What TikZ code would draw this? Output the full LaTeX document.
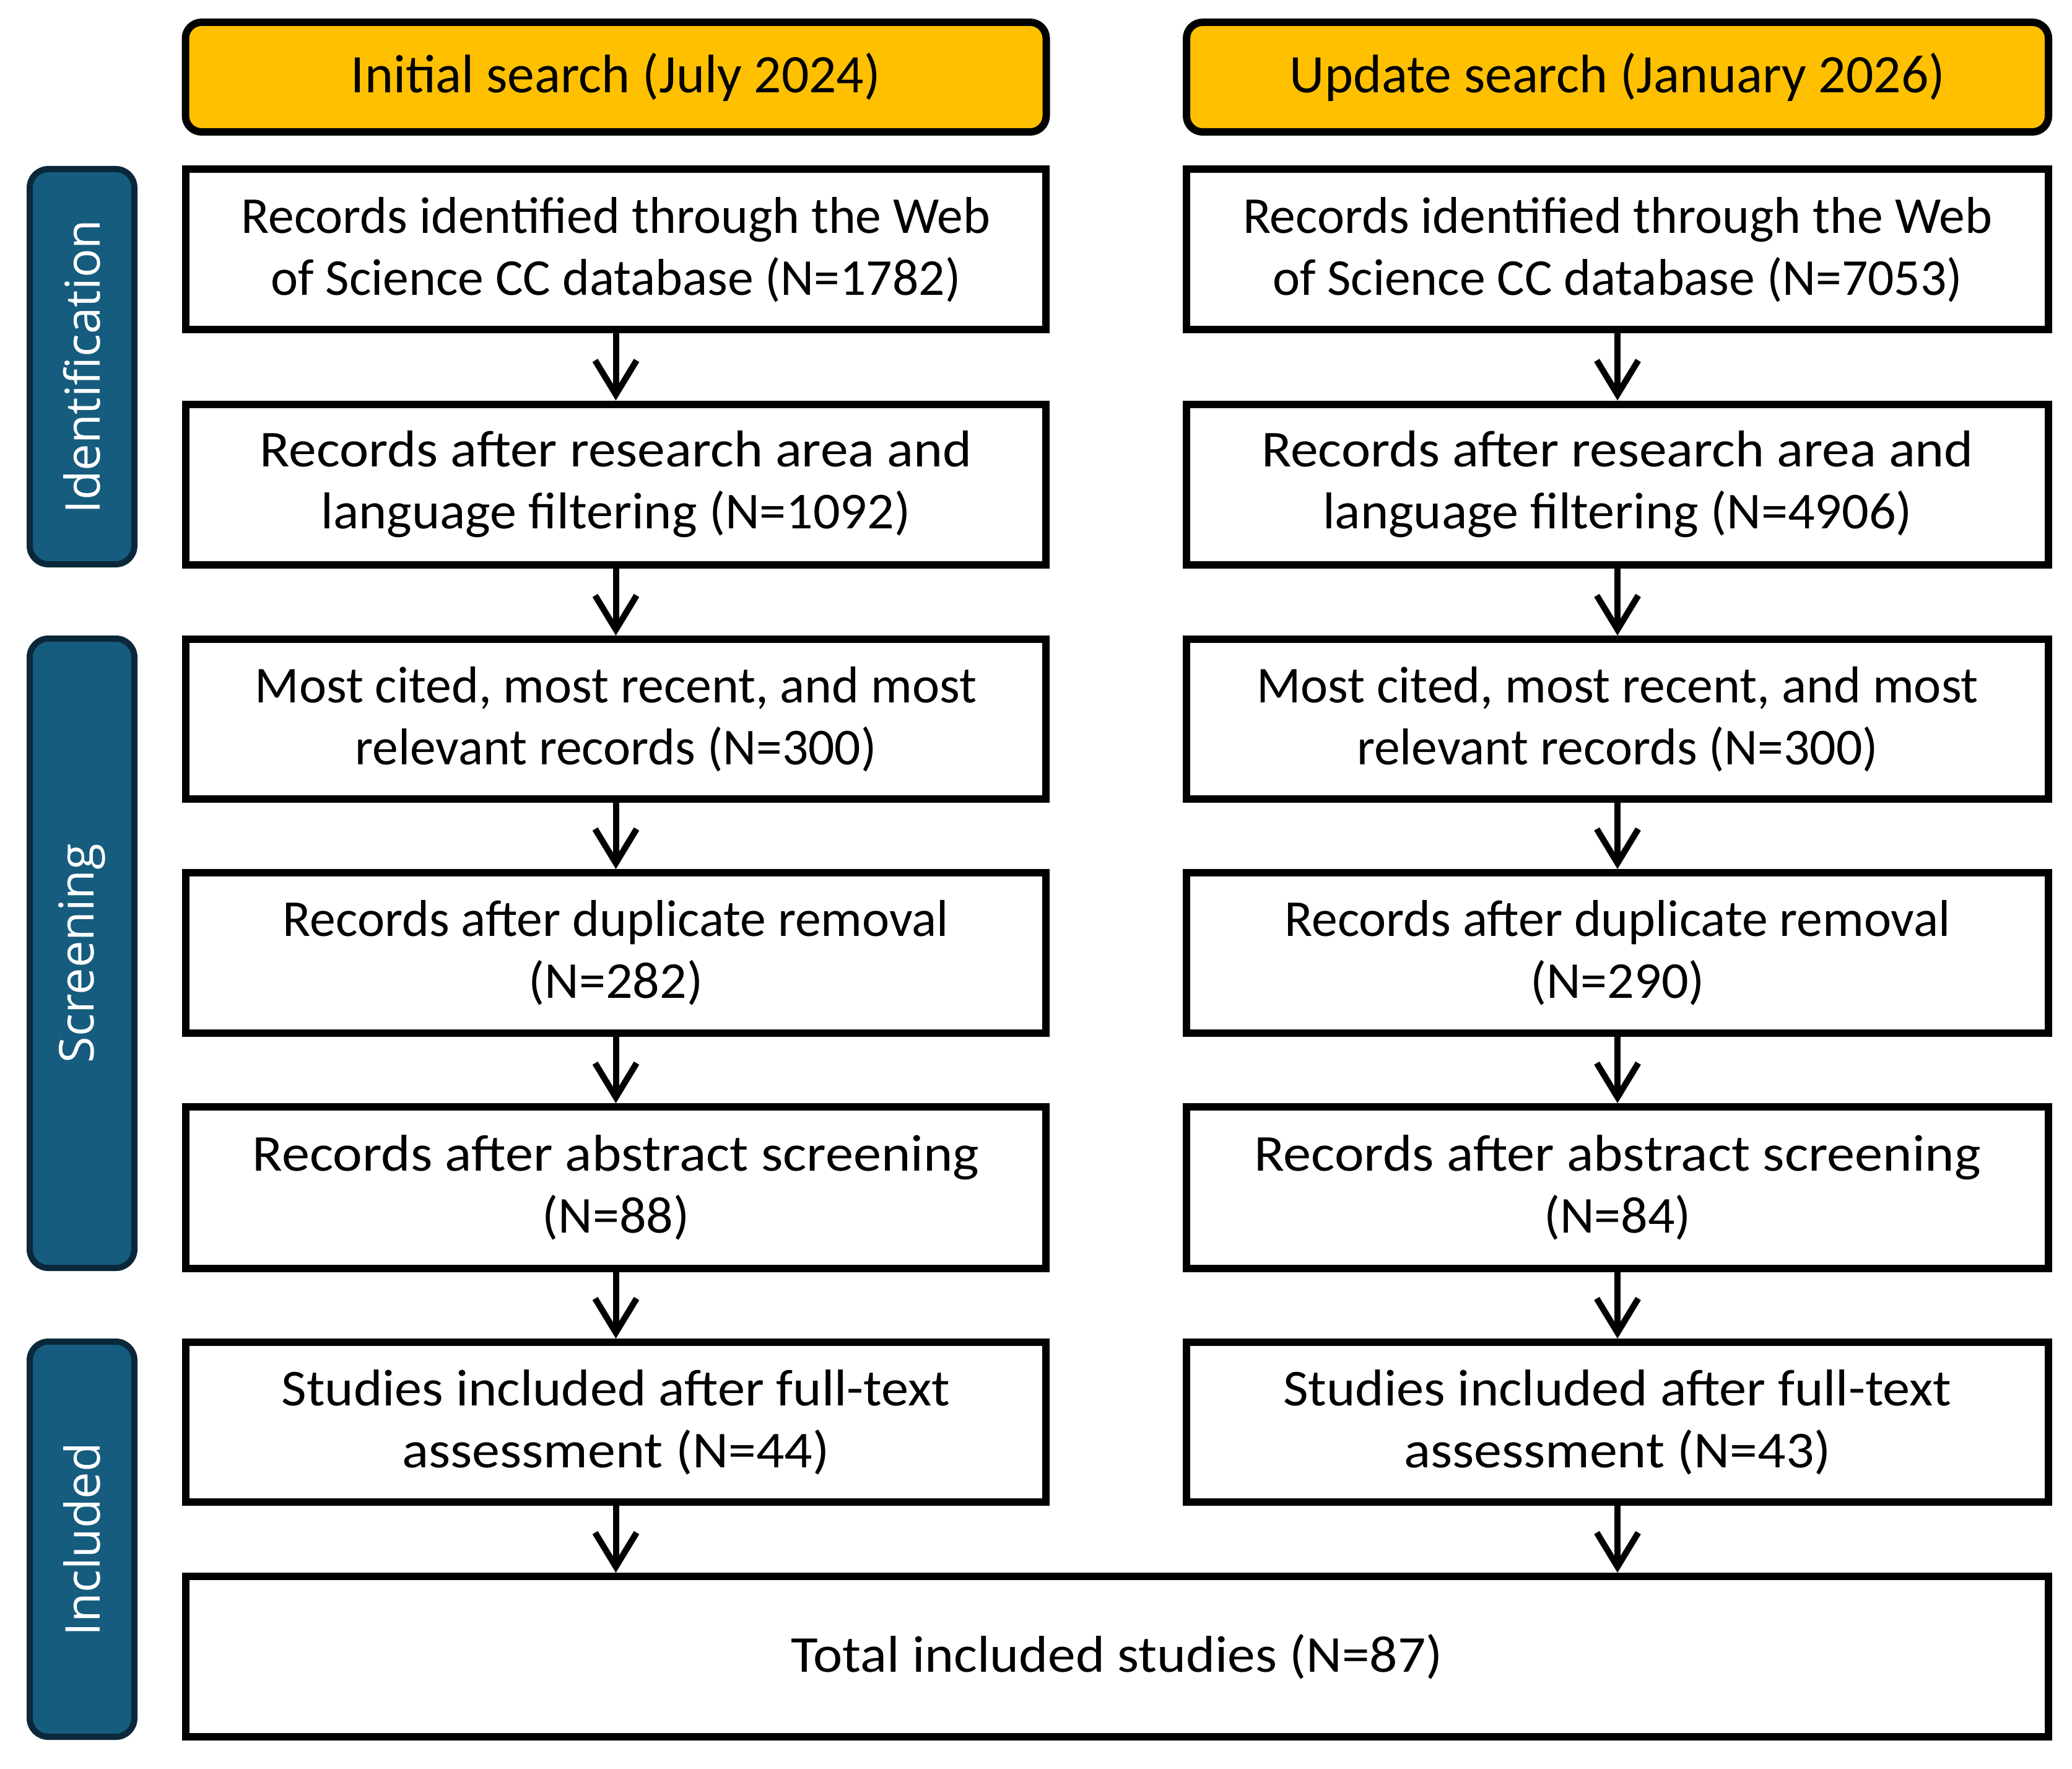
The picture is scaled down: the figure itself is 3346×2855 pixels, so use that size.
\documentclass[tikz,border=0pt]{standalone}
\usepackage{fontspec}
\usepackage{graphicx}
\setmainfont{Carlito}
\newfontfamily\sidefont{Open Sans}
\usetikzlibrary{arrows.meta}
\definecolor{hdryellow}{RGB}{255,192,0}
\definecolor{sidefill}{RGB}{22,92,126}
\definecolor{sideline}{RGB}{10,40,58}
\newcommand{\stretchline}[2]{\scalebox{#1}[1]{#2}}
\begin{document}
\begin{tikzpicture}[x=0.25pt,y=-0.25pt,
  stepbox/.style={draw=black, line width=3pt, fill=white, rectangle, align=center,
    inner sep=0pt, font=\fontsize{20.9pt}{25pt}\selectfont, text=black},
  colbox/.style={stepbox, minimum width=348pt, minimum height=64.75pt},
  hdrbox/.style={draw=black, line width=3pt, fill=hdryellow, rounded corners=6.5pt,
    minimum width=347.5pt, minimum height=44.25pt, inner sep=0pt,
    font=\fontsize{21.9pt}{26pt}\selectfont, text=black},
  sidebox/.style={draw=sideline, fill=sidefill, line width=2.5pt, rounded corners=7.5pt,
    minimum width=42.25pt, inner sep=0pt},
  sidetext/.style={text=white, rotate=90, inner sep=0pt,
    font=\sidefont\fontsize{19.4pt}{23pt}\selectfont},
  flowarrow/.style={draw=black, line width=2.5pt,
    -{Straight Barb[length=13.75pt, width=16.75pt, line width=2.5pt]}}
]
\useasboundingbox (0,0) rectangle (3346,2855);

% headers
\node[hdrbox] (h1) at (994.5,124.5) {Initial search (July 2024)};
\node[hdrbox, minimum width=348pt] (h2) at (2612,124.5) {Update search (January 2026)};

% side labels
\node[sidebox, minimum height=159.5pt] (s1) at (132.5,592) {};
\node[sidetext] (t1) at (s1.center) {Identification};
\node[sidebox, minimum height=254pt] (s2) at (132.5,1539) {};
\node[sidetext] (t2) at (s2.center) {Screening};
\node[sidebox, minimum height=159.5pt] (s3) at (132.5,2485) {};
\node[sidetext] (t3) at (s3.center) {Included};

% left column
\node[colbox, minimum width=347.25pt] (l1) at (994.5,403) {Records identified through the Web\\of Science CC database (N=1782)};
\node[colbox, minimum width=347.25pt] (l2) at (994.5,782) {\stretchline{1.07}{Records after research area and}\\\stretchline{1.03}{language filtering (N=1092)}};
\node[colbox, minimum width=347.25pt, minimum height=64.5pt] (l3) at (994.5,1161) {Most cited, most recent, and most\\relevant records (N=300)};
\node[colbox, minimum width=347.25pt] (l4) at (994.5,1538.5) {Records after duplicate removal\\\stretchline{1.03}{(N=282)}};
\node[colbox, minimum width=347.25pt, minimum height=65.25pt] (l5) at (994.5,1917.5) {\stretchline{1.08}{Records after abstract screening}\\\stretchline{1.03}{(N=88)}};
\node[colbox, minimum width=347.25pt, minimum height=64.5pt] (l6) at (994.5,2296) {\stretchline{1.057}{Studies included after full-text}\\\stretchline{1.075}{assessment (N=44)}};

% right column
\node[colbox] (r1) at (2612,403) {Records identified through the Web\\of Science CC database (N=7053)};
\node[colbox] (r2) at (2612,782) {\stretchline{1.07}{Records after research area and}\\\stretchline{1.03}{language filtering (N=4906)}};
\node[colbox, minimum height=64.5pt] (r3) at (2612,1161) {Most cited, most recent, and most\\relevant records (N=300)};
\node[colbox] (r4) at (2612,1538.5) {Records after duplicate removal\\\stretchline{1.03}{(N=290)}};
\node[colbox, minimum height=65.25pt] (r5) at (2612,1917.5) {\stretchline{1.08}{Records after abstract screening}\\\stretchline{1.03}{(N=84)}};
\node[colbox, minimum height=64.5pt] (r6) at (2612,2296) {\stretchline{1.057}{Studies included after full-text}\\\stretchline{1.075}{assessment (N=43)}};

% total
\node[stepbox, minimum width=752pt, minimum height=64.75pt] (tot) at (1804,2674.5) {\stretchline{1.07}{Total included studies (N=87)}};

% arrows
\foreach \a/\b in {l1/l2,l2/l3,l3/l4,l4/l5,l5/l6,r1/r2,r2/r3,r3/r4,r4/r5,r5/r6}
  \draw[flowarrow] (\a.south) -- (\b.north);
\draw[flowarrow] (l6.south) -- (l6.south |- tot.north);
\draw[flowarrow] (r6.south) -- (r6.south |- tot.north);
\end{tikzpicture}
\end{document}
